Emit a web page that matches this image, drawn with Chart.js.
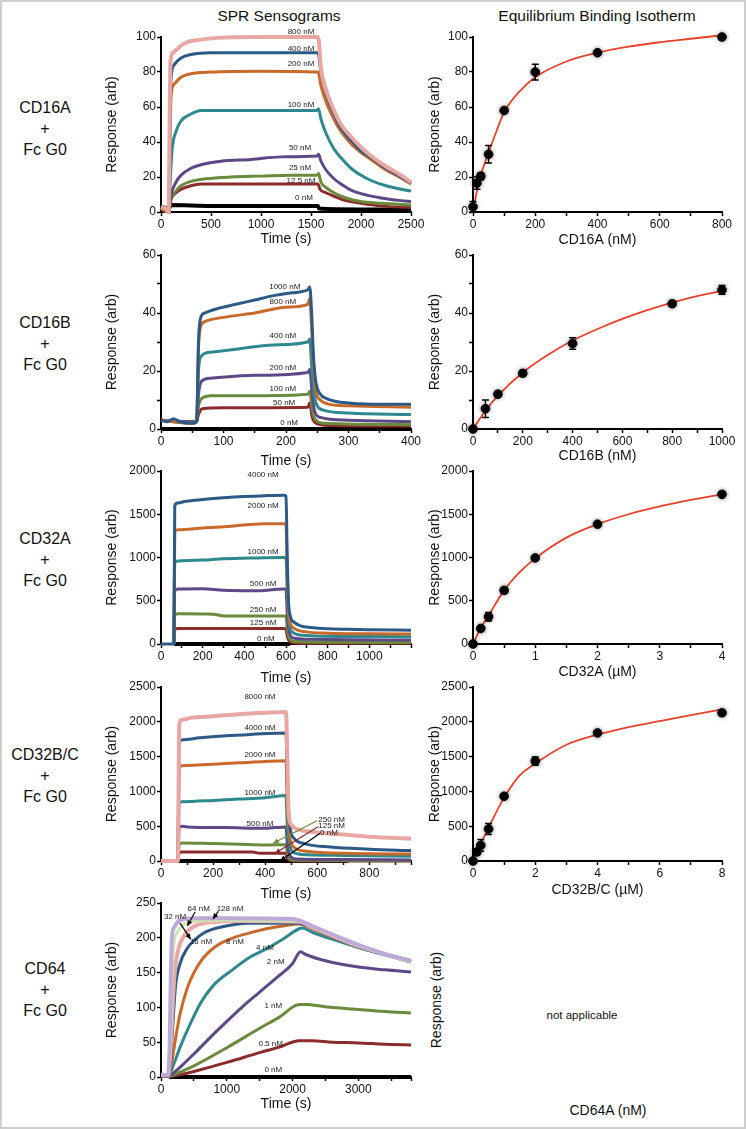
<!DOCTYPE html>
<html>
<head>
<meta charset="utf-8">
<script src="https://cdn.jsdelivr.net/npm/chart.js@4"></script>
<style>
html, body { margin: 0; padding: 0; background: #fff; }
#page { position: relative; width: 746px; height: 1129px; overflow: hidden; background: #fff;
        font-family: "Liberation Sans", Arial, Helvetica, sans-serif; color: #111; }
#frame { position: absolute; left: 0; top: 0; width: 746px; height: 1129px; box-sizing: border-box;
         border: 2px solid #cfcfcf; pointer-events: none; }
canvas { position: absolute; }
.t { position: absolute; white-space: nowrap; transform: translate(-50%, -50%); }
.rot { transform: translate(-50%, -50%) rotate(-90deg); }
.row { position: absolute; width: 90px; left: 0; text-align: center; font-size: 16px; line-height: 21px; }
</style>
</head>
<body>
<div id="page">
  <div class="t" style="left:279px;top:16px;font-size:15.5px">SPR Sensograms</div>
  <div class="t" style="left:597px;top:16px;font-size:15.5px">Equilibrium Binding Isotherm</div>

  <div class="row" style="top:97px">CD16A<br>+<br>Fc G0</div>
  <div class="row" style="top:312px">CD16B<br>+<br>Fc G0</div>
  <div class="row" style="top:528px">CD32A<br>+<br>Fc G0</div>
  <div class="row" style="top:744px">CD32B/C<br>+<br>Fc G0</div>
  <div class="row" style="top:958px">CD64<br>+<br>Fc G0</div>

  <div class="t rot" style="left:436px;top:1000px;font-size:14px">Response (arb)</div>
  <div class="t" style="left:582px;top:1015px;font-size:11.5px">not applicable</div>
  <div class="t" style="left:608px;top:1110px;font-size:14px">CD64A (nM)</div>
  <div id="frame"></div>
</div>
<script>
// ---------- CD16A + Fc G0 sensorgram (time s, response) ----------
const cd16aLabels = [['800 nM',1400,103],['400 nM',1400,93.5],['200 nM',1400,84.5],['100 nM',1400,61],
                     ['50 nM',1390,36.5],['25 nM',1390,25],['12.5 nM',1400,18],['0 nM',1430,8]];
const cd16a800 = [[0,3],[50,2],[78,0],[86,50],[95,86],[120,91],[200,95],[260,97],[400,98.5],[560,99.5],[1000,100],[1560,100],[1575,99],[1600,82],[1650,70],[1730,58],[1800,50],[1900,43],[2000,37],[2100,32],[2250,26],[2400,21],[2500,17]];
const cd16a400 = [[0,3],[50,2],[78,0],[88,40],[100,76],[130,84],[200,88],[300,90],[500,91],[1000,91],[1570,91],[1600,80],[1650,68],[1730,56],[1800,48],[1900,41],[2000,35],[2100,31],[2250,25],[2400,20],[2500,16.5]];
const cd16a200 = [[0,2],[78,0],[88,30],[100,66],[130,73],[200,77],[300,79],[500,80],[1000,80.5],[1570,80],[1600,72],[1650,63],[1730,53],[1800,46],[1900,39],[2000,34],[2100,30],[2250,24],[2400,19.5],[2500,16]];
const cd16a100 = [[0,2],[78,0],[90,15],[110,35],[150,46],[200,52],[300,56],[400,58],[1000,58],[1560,58],[1575,59],[1600,53],[1650,45],[1730,36],[1800,31],[1900,25],[2000,21],[2100,18],[2250,15],[2400,13],[2500,12]];
const cd16a50 = [[0,2],[80,0],[95,8],[150,17],[200,21],[300,25],[400,27],[600,29],[900,30],[1200,31.5],[1560,32],[1575,33],[1600,29],[1650,24],[1730,19],[1800,16],[1900,12.5],[2000,10.5],[2200,8],[2400,6.5],[2500,6]];
const cd16a25 = [[0,2],[80,0],[95,6],[150,12],[200,15],[300,17.5],[450,19],[700,20],[1000,20.5],[1300,21],[1560,21],[1575,22],[1600,17],[1650,14],[1730,11],[1850,8],[2000,6],[2200,5],[2500,4]];
const cd16a12 = [[0,2],[80,0],[95,6],[150,11],[200,13],[300,15],[400,16],[1000,16],[1570,16],[1590,13],[1650,11],[1730,9],[1850,6.5],[2000,5],[2200,3.5],[2500,2.5]];
const cd16a0 = [[0,3],[80,2],[100,4],[500,3.5],[1000,3.5],[1570,3.5],[1580,2],[2000,1.5],[2500,1.5]];

// ---------- CD16B + Fc G0 sensorgram ----------
const cd16bLabels = [['1000 nM',198,49],['800 nM',195,44],['400 nM',195,32],['200 nM',195,21],
                     ['100 nM',195,14],['50 nM',197,9.2],['0 nM',205,2.2]];
const cd16b1000 = [[0,3],[10,2.5],[20,3.5],[30,2.5],[50,2],[57,2.5],[60,30],[63,38],[70,40],[90,41.5],[120,43],[150,44.5],[180,46],[210,47],[235,48],[238,49],[241,40],[244,25],[248,16],[255,12],[265,10.5],[280,9.5],[300,9],[350,8.5],[400,8.5]];
const cd16b800 = [[0,3],[50,2],[57,2.5],[60,28],[63,35],[70,37],[100,38.5],[150,40],[200,42],[235,43],[238,45],[241,35],[244,22],[248,13],[255,10],[270,8.5],[300,8],[400,7.5]];
const cd16b400 = [[0,3],[50,2],[57,2.5],[60,20],[64,25],[80,26.5],[120,27.5],[180,29],[235,30],[238,31],[241,22],[245,12],[250,8],[260,6.5],[300,5.5],[400,5]];
const cd16b200 = [[0,3],[57,2.5],[60,12],[65,16.5],[80,17.5],[150,18.5],[235,19.5],[238,20.5],[242,12],[246,6],[255,4],[300,3],[400,2.5]];
const cd16b100 = [[0,3],[57,2.5],[60,8],[65,10.5],[80,11.5],[150,11.5],[235,12],[238,13],[242,7],[246,3.5],[260,2],[400,1.5]];
const cd16b50 = [[0,3],[57,2.5],[60,5],[66,7],[100,7.3],[235,7.5],[238,9],[242,4],[248,2],[270,1.2],[400,1]];
const cd16b0 = [[0,0],[400,0]];

// ---------- CD32A + Fc G0 sensorgram ----------
const cd32aLabels = [['4000 nM',490,1961],['2000 nM',490,1603],['1000 nM',490,1067],['500 nM',490,701],
                     ['250 nM',490,393],['125 nM',490,246],['0 nM',503,65]];
const cd32a4000 = [[0,0],[62,0],[66,1600],[80,1630],[120,1650],[200,1670],[300,1690],[400,1705],[500,1715],[590,1720],[600,1710],[606,1000],[612,500],[620,330],[640,250],[670,210],[720,190],[800,175],[900,170],[1000,165],[1200,160]];
const cd32a2000 = [[62,0],[66,1300],[80,1320],[200,1340],[300,1355],[400,1375],[500,1390],[590,1390],[600,1380],[606,800],[612,400],[620,250],[640,180],[700,140],[800,125],[1000,118],[1200,115]];
const cd32a1000 = [[62,0],[66,940],[80,960],[200,970],[300,985],[450,995],[590,1000],[600,990],[606,600],[615,250],[630,140],[680,100],[800,90],[1200,85]];
const cd32a500 = [[62,0],[66,610],[80,635],[200,640],[300,620],[450,615],[590,635],[600,630],[606,350],[615,150],[635,70],[700,55],[900,48],[1200,45]];
const cd32a250 = [[62,0],[66,330],[80,350],[250,345],[300,325],[590,325],[600,320],[606,180],[615,70],[640,30],[800,20],[1200,18]];
const cd32a125 = [[62,0],[66,170],[80,180],[590,180],[600,175],[606,90],[620,25],[660,10],[1200,8]];
const cd32a0 = [[62,0],[620,0]];

// ---------- CD32B/C + Fc G0 sensorgram ----------
const cd32bLabels = [['8000 nM',380,2360],['4000 nM',380,1920],['2000 nM',380,1523],['1000 nM',380,981],
                     ['500 nM',380,541],['250 nM',655,599],['125 nM',655,503],['0 nM',645,407]];
const cd32bArrows = [[599,579,431,254],[603,493,438,111],[611,398,458,4]];
const cd32b8000 = [[0,0],[65,0],[70,1950],[80,2030],[120,2060],[200,2080],[300,2110],[400,2130],[480,2140],[485,1500],[490,700],[500,520],[530,450],[600,410],[700,380],[800,350],[960,320]];
const cd32b4000 = [[65,0],[70,1700],[80,1740],[150,1770],[250,1800],[350,1820],[480,1840],[485,1100],[495,500],[510,330],[550,250],[650,200],[800,170],[960,150]];
const cd32b2000 = [[65,0],[70,1330],[80,1370],[200,1390],[300,1410],[400,1430],[480,1440],[485,800],[495,350],[510,200],[560,140],[700,110],[960,100]];
const cd32b1000 = [[65,0],[70,830],[80,850],[200,870],[300,890],[400,910],[480,940],[485,500],[495,220],[510,120],[560,90],[700,80],[960,70]];
const cd32b500 = [[65,0],[70,480],[80,500],[100,490],[250,480],[400,470],[480,490],[485,250],[495,80],[520,30],[700,20],[960,15]];
const cd32b250 = [[65,0],[70,240],[80,260],[200,250],[300,240],[400,230],[480,235],[485,120],[495,30],[520,10],[960,5]];
const cd32b125 = [[65,0],[70,120],[80,130],[350,130],[380,110],[480,110],[485,50],[495,10],[520,0],[960,0]];
const cd32b0 = [[65,0],[720,0]];

// ---------- CD64 + Fc G0 sensorgram ----------
const cd64Labels = [['128 nM',1049,241],['64 nM',573,241],['32 nM',213,230],['16 nM',608,194],['8 nM',1125,194],
                    ['4 nM',1580,186],['2 nM',1743,166],['1 nM',1707,102],['0.5 nM',1667,47],['0 nM',1707,11]];
const cd64Arrows = [[870,238,790,227],[517,237,400,217],[289,221,451,198]];
const cd64_128 = [[0,3],[100,3],[130,40],[150,150],[165,200],[200,215],[290,225],[500,228],[1000,228],[2000,227],[2100,225],[2300,217],[2600,205],[3000,190],[3400,177],[3800,167]];
const cd64_64 = [[0,3],[100,3],[140,40],[170,150],[190,187],[250,208],[390,221],[600,224],[1000,225],[2100,224],[2300,216],[2600,204],[3000,189],[3400,176],[3800,166]];
const cd64_32 = [[0,2],[110,2],[150,50],[200,140],[240,173],[350,203],[500,216],[850,223],[1200,224],[2100,223],[2300,215],[2600,203],[3000,188],[3800,166]];
const cd64_16 = [[0,1],[120,1],[170,60],[220,130],[290,163],[400,185],[500,196],[650,207],[850,214],[1350,221],[2100,221],[2300,214],[2600,202],[3000,187],[3800,166]];
const cd64_8 = [[120,0],[170,25],[230,60],[290,91],[400,128],[500,150],[650,172],[850,189],[1100,200],[1350,207],[1600,213],[1850,217],[2100,220],[2300,213],[2600,201],[3000,187],[3800,166]];
const cd64_4 = [[120,0],[200,20],[300,45],[400,67],[600,106],[800,132],[1100,155],[1350,172],[1600,184],[1850,198],[2100,213],[2150,214],[2300,208],[2600,198],[3000,186],[3800,165]];
const cd64_2 = [[120,0],[300,15],[500,33],[750,57],[1000,80],[1250,102],[1500,122],[1750,142],[2000,163],[2120,180],[2200,176],[2500,167],[3000,158],[3400,154],[3800,151]];
const cd64_1 = [[120,0],[500,16],[1000,42],[1500,70],[1800,86],[2100,104],[2200,104],[2500,101],[3000,97],[3400,94],[3800,92]];
const cd64_05 = [[120,0],[500,8],[1000,21],[1500,35],[1800,43],[2100,52],[2300,52],[2600,50],[3000,49],[3400,47],[3800,46]];
const cd64_0 = [[120,0],[3800,0]];

// ---------- equilibrium binding isotherms ----------
const cd16aIsoX = [0,12.5,25,50,100,200,400,800];
const cd16aIsoY = [3,16.5,20.5,33,58,80,91,100];
const cd16aIsoErr = [3,3.5,2,5,1,4.5,1,1.5];
const cd16aFitX = [0,12.5,25,50,75,100,150,200,300,400,500,600,700,800];
const cd16aFitY = [0,12,21,34,46,57,69,77,86,91,94.5,97,99,101];

const cd16bIsoX = [0,50,100,200,400,800,1000];
const cd16bIsoY = [0,7,12,19.2,29.5,43.2,48];
const cd16bIsoErr = [0.5,3,1,1,2,1,1.5];
const cd16bFitX = [0,50,100,200,300,400,500,600,700,800,900,1000];
const cd16bFitY = [0,6.3,11.5,19.5,25.5,30.5,34.5,38,41,43.6,45.8,47.6];

const cd32aIsoX = [0,0.125,0.25,0.5,1,2,4];
const cd32aIsoY = [0,180,315,620,995,1385,1730];
const cd32aIsoErr = [10,30,50,30,25,25,25];
const cd32aFitX = [0,0.125,0.25,0.5,0.75,1,1.5,2,2.5,3,3.5,4];
const cd32aFitY = [0,185,330,620,830,990,1230,1385,1500,1590,1665,1730];

const cd32bIsoX = [0,0.125,0.25,0.5,1,2,4,8];
const cd32bIsoY = [0,130,225,460,930,1435,1840,2130];
const cd32bIsoErr = [20,40,85,80,30,60,30,40];
const cd32bFitX = [0,0.125,0.25,0.5,1,1.5,2,3,4,5,6,7,8];
const cd32bFitY = [0,130,250,480,910,1230,1400,1670,1815,1925,2010,2095,2180];

// ---------- styles / layout ----------
const COLORS = { pink:'#e9a7a3', blue:'#2d5986', orange:'#c76a2b', teal:'#2e898e', purple:'#5d4987',
                 green:'#6c8a3b', red:'#8a2b2c', black:'#000000', lavender:'#bcabd9', lime:'#d0e2b3' };
const FAM = '"Liberation Sans", Arial, Helvetica, sans-serif';
const ROW_TOP = [37, 255, 471, 687, 903];
const ROW_BOT = [212, 429, 644, 861, 1077];

Chart.defaults.font.family = FAM;
Chart.defaults.color = '#111';
Chart.defaults.animation = false;

function isMajor(v, major) {
  const q = v / major;
  return Math.abs(q - Math.round(q)) < 1e-6;
}

function axis(a, title, size, horizontal) {
  // a = [min, max, minorStep, majorStep, lastLabel]
  const last = a[4] === undefined ? a[1] : a[4];
  return {
    type: 'linear', min: a[0], max: a[1],
    ticks: { autoSkip: false, maxRotation: 0, padding: 1, color: '#111', font: { size: 12 },
             callback: v => (isMajor(v, a[3]) && v <= last + 1e-9) ? String(v) : '' },
    grid: { display: true, drawOnChartArea: false, drawTicks: true, tickLength: 4, tickColor: '#000', tickWidth: 1.5 },
    border: { display: true, color: '#000', width: 2 },
    title: { display: true, text: title, color: '#111', font: { size: 14 }, padding: 0 },
    afterBuildTicks: s => {
      const t = [];
      for (let k = 0; a[0] + k * a[2] <= a[1] + 1e-9; k++) t.push({ value: +(a[0] + k * a[2]).toFixed(6) });
      if (t[t.length - 1].value < a[1] - 1e-9) t.push({ value: a[1] });
      s.ticks = t;
    },
    afterFit: s => { if (horizontal) s.height = size; else s.width = size; }
  };
}

function overlay(labels, arrows, arrowColors, errors) {
  return {
    id: 'overlay',
    beforeDatasetDraw(chart, args) {
      if (errors && args.index === 0) {
        chart.ctx.save();
        chart.ctx.shadowColor = 'rgba(0,0,0,0.45)';
        chart.ctx.shadowBlur = 4;
      }
    },
    afterDatasetDraw(chart, args) {
      if (errors && args.index === 0) chart.ctx.restore();
    },
    afterDatasetsDraw(chart) {
      const ctx = chart.ctx, xs = chart.scales.x, ys = chart.scales.y;
      ctx.save();
      if (errors) {
        const pts = chart.data.datasets[0].data;
        ctx.strokeStyle = '#000';
        ctx.lineWidth = 1.5;
        pts.forEach((p, i) => {
          const px = xs.getPixelForValue(p[0]);
          const y1 = ys.getPixelForValue(p[1] - errors[i]);
          const y2 = ys.getPixelForValue(p[1] + errors[i]);
          ctx.beginPath();
          ctx.moveTo(px, y1); ctx.lineTo(px, y2);
          ctx.moveTo(px - 3.5, y1); ctx.lineTo(px + 3.5, y1);
          ctx.moveTo(px - 3.5, y2); ctx.lineTo(px + 3.5, y2);
          ctx.stroke();
        });
      }
      (arrows || []).forEach((a, i) => {
        const x1 = xs.getPixelForValue(a[0]), y1 = ys.getPixelForValue(a[1]);
        const x2 = xs.getPixelForValue(a[2]), y2 = ys.getPixelForValue(a[3]);
        const c = COLORS[arrowColors[i]];
        ctx.strokeStyle = c; ctx.fillStyle = c; ctx.lineWidth = 1.2;
        ctx.beginPath(); ctx.moveTo(x1, y1); ctx.lineTo(x2, y2); ctx.stroke();
        const ang = Math.atan2(y2 - y1, x2 - x1);
        ctx.beginPath();
        ctx.moveTo(x2, y2);
        ctx.lineTo(x2 - 6 * Math.cos(ang - 0.45), y2 - 6 * Math.sin(ang - 0.45));
        ctx.lineTo(x2 - 6 * Math.cos(ang + 0.45), y2 - 6 * Math.sin(ang + 0.45));
        ctx.closePath(); ctx.fill();
      });
      ctx.fillStyle = '#1a1a1a';
      ctx.font = '8px ' + FAM;
      ctx.textAlign = 'center';
      ctx.textBaseline = 'middle';
      (labels || []).forEach(l => {
        ctx.fillText(l[0], xs.getPixelForValue(l[1]), ys.getPixelForValue(l[2]));
      });
      ctx.restore();
    }
  };
}

function makeCanvas(side, row, titleOffset) {
  const L = side === 'L' ? { left: 104, width: 322, yW: 57, plotW: 250 } : { left: 427, width: 312, yW: 46, plotW: 249 };
  const top = ROW_TOP[row] - 12;
  const inner = ROW_BOT[row] - top;
  const height = Math.round(inner + titleOffset + 8.4);
  const cv = document.createElement('canvas');
  cv.width = L.width; cv.height = height;
  cv.style.left = L.left + 'px'; cv.style.top = top + 'px';
  document.getElementById('page').insertBefore(cv, document.getElementById('frame'));
  return { cv, yW: L.yW, xH: height - inner, padR: L.width - L.yW - L.plotW };
}

function sensorChart(row, curves, colors, xa, ya, labels, arrows, arrowColors, titleOffset) {
  const c = makeCanvas('L', row, titleOffset);
  new Chart(c.cv, {
    type: 'line',
    data: {
      datasets: curves.map((d, i) => ({
        data: d, borderColor: COLORS[colors[i]], backgroundColor: COLORS[colors[i]],
        borderWidth: (colors[i] === 'pink' || colors[i] === 'lavender' || colors[i] === 'black') ? 4 : 3,
        pointRadius: 0, cubicInterpolationMode: 'monotone', clip: 6, fill: false
      }))
    },
    options: {
      responsive: false, devicePixelRatio: 1, animation: false,
      layout: { padding: { top: 12, right: c.padR, left: 0, bottom: 0 } },
      plugins: { legend: { display: false }, tooltip: { enabled: false } },
      scales: { x: axis(xa, 'Time (s)', c.xH, true), y: axis(ya, 'Response (arb)', c.yW, false) }
    },
    plugins: [overlay(labels, arrows, arrowColors, null)]
  });
}

function isoChart(row, px, py, err, fx, fy, xa, ya, xTitle, titleOffset) {
  const c = makeCanvas('R', row, titleOffset);
  new Chart(c.cv, {
    type: 'line',
    data: {
      datasets: [
        { data: px.map((x, i) => [x, py[i]]), showLine: false, pointRadius: 4.3, pointBackgroundColor: '#000',
          pointBorderColor: '#000', borderColor: '#000', order: 0, clip: 8 },
        { data: fx.map((x, i) => [x, fy[i]]), borderColor: '#e8412c', borderWidth: 1.8, pointRadius: 0,
          cubicInterpolationMode: 'monotone', order: 1, clip: 4, fill: false }
      ]
    },
    options: {
      responsive: false, devicePixelRatio: 1, animation: false,
      layout: { padding: { top: 12, right: c.padR, left: 0, bottom: 0 } },
      plugins: { legend: { display: false }, tooltip: { enabled: false } },
      scales: { x: axis(xa, xTitle, c.xH, true), y: axis(ya, 'Response (arb)', c.yW, false) }
    },
    plugins: [overlay(null, null, null, err)]
  });
}

const SIX = ['blue','orange','teal','purple','green','red','black'];

sensorChart(0, [cd16a800, cd16a400, cd16a200, cd16a100, cd16a50, cd16a25, cd16a12, cd16a0],
  ['pink','blue','orange','teal','purple','green','red','black'],
  [0, 2500, 500, 500], [0, 100, 20, 20], cd16aLabels, [], [], 28);
sensorChart(1, [cd16b1000, cd16b800, cd16b400, cd16b200, cd16b100, cd16b50, cd16b0], SIX,
  [0, 400, 50, 100], [0, 60, 10, 20], cd16bLabels, [], [], 33);
sensorChart(2, [cd32a4000, cd32a2000, cd32a1000, cd32a500, cd32a250, cd32a125, cd32a0], SIX,
  [0, 1200, 100, 200, 1000], [0, 2000, 500, 500], cd32aLabels, [], [], 35);
sensorChart(3, [cd32b8000, cd32b4000, cd32b2000, cd32b1000, cd32b500, cd32b250, cd32b125, cd32b0],
  ['pink','blue','orange','teal','purple','green','red','black'],
  [0, 960, 100, 200], [0, 2500, 500, 500], cd32bLabels, cd32bArrows, ['green','red','black'], 34);
sensorChart(4, [cd64_128, cd64_64, cd64_32, cd64_16, cd64_8, cd64_4, cd64_2, cd64_1, cd64_05, cd64_0],
  ['lavender','lime','pink','blue','orange','teal','purple','green','red','black'],
  [0, 3800, 500, 1000], [0, 250, 50, 50], cd64Labels, cd64Arrows, ['black','black','black'], 28);

isoChart(0, cd16aIsoX, cd16aIsoY, cd16aIsoErr, cd16aFitX, cd16aFitY, [0, 800, 100, 200], [0, 100, 20, 20], 'CD16A (nM)', 29);
isoChart(1, cd16bIsoX, cd16bIsoY, cd16bIsoErr, cd16bFitX, cd16bFitY, [0, 1000, 100, 200], [0, 60, 10, 20], 'CD16B (nM)', 28);
isoChart(2, cd32aIsoX, cd32aIsoY, cd32aIsoErr, cd32aFitX, cd32aFitY, [0, 4, 0.5, 1], [0, 2000, 500, 500], 'CD32A (\u00b5M)', 29);
isoChart(3, cd32bIsoX, cd32bIsoY, cd32bIsoErr, cd32bFitX, cd32bFitY, [0, 8, 1, 2], [0, 2500, 500, 500], 'CD32B/C (\u00b5M)', 30);
</script>
</body>
</html>
